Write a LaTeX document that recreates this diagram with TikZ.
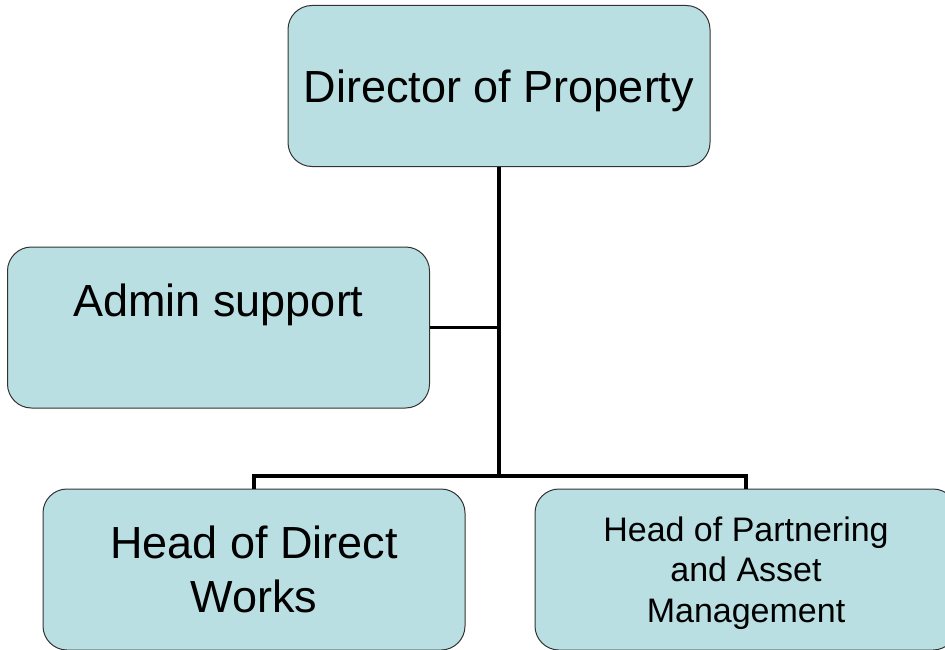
\documentclass[tikz,border=0pt]{standalone}
\usepackage{fontspec}
\setmainfont{Liberation Sans}
\definecolor{boxfill}{HTML}{B9DFE3}
\definecolor{boxline}{HTML}{333333}
\begin{document}
\begin{tikzpicture}[x=1pt,y=-1pt,
  orgbox/.style={draw=boxline, line width=1pt, fill=boxfill,
    rounded corners=24pt, minimum width=422pt, minimum height=161pt,
    align=center, inner sep=0pt, text depth=0pt},
  bigtext/.style={font=\fontsize{45}{54}\selectfont},
  smalltext/.style={font=\fontsize{34}{40.5}\selectfont},
  link/.style={line width=3.6pt, line join=miter}]
\useasboundingbox (0,0) rectangle (945,650);
\clip (0,0) rectangle (945,650);

% boxes of the chart
\node[orgbox,bigtext] (dir) at (499,86) {Director of Property};
\node[orgbox,bigtext] (admin) at (218.5,327.5) {Admin support\\\mbox{}};
\node[orgbox,bigtext] (works) at (254,569.5) {Head of Direct\\Works};
\node[orgbox,smalltext] (part) at (746,569.5) {Head of Partnering\\and Asset\\Management};

% reporting lines
\coordinate (bus) at (499,476);
\draw[link, line width=4pt] (dir.south) -- (bus);
\draw[link] (admin.east) -- (admin.east -| dir.south);
\draw[link] (works.north) -- (works.north |- bus) -- (part.north |- bus) -- (part.north);
\end{tikzpicture}
\end{document}
